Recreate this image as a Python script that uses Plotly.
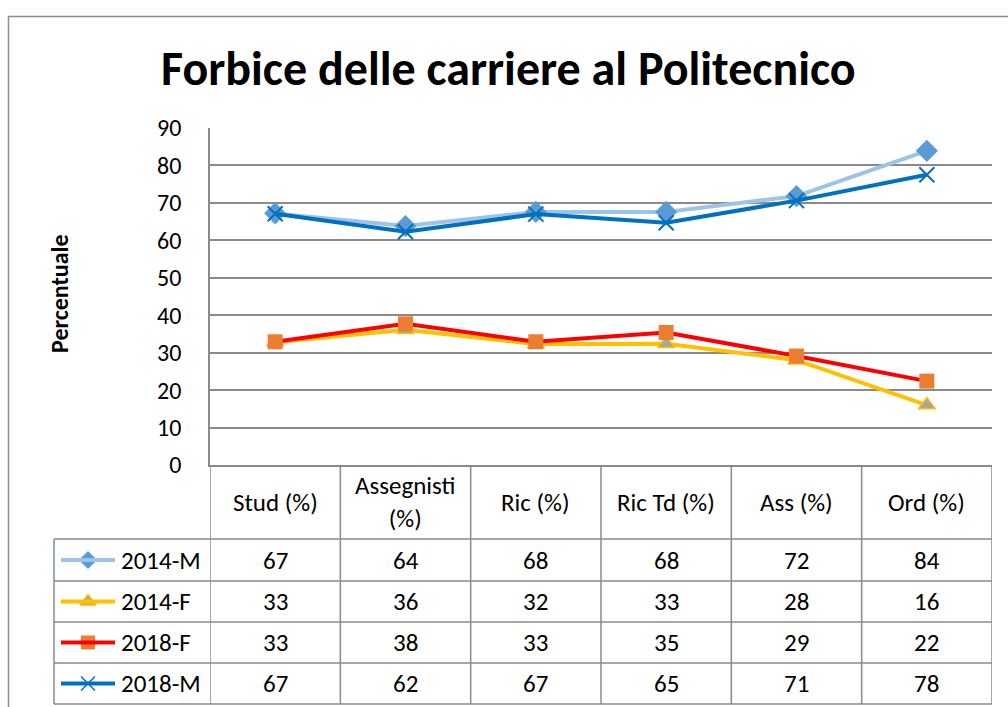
import plotly.graph_objects as go

W, H = 1008, 707

# ---------------- data ----------------
categories = ["Stud (%)", "Assegnisti (%)", "Ric (%)", "Ric Td (%)", "Ass (%)", "Ord (%)"]
header_labels = ["Stud (%)", "Assegnisti<br>(%)", "Ric (%)", "Ric Td (%)", "Ass (%)", "Ord (%)"]
series_names = ["2014-M", "2014-F", "2018-F", "2018-M"]
m2014 = [67.2, 63.8, 67.6, 67.6, 71.8, 83.9]
f2014 = [32.8, 36.1, 32.3, 32.4, 28.0, 16.0]
f2018 = [32.9, 37.7, 32.9, 35.4, 29.1, 22.4]
m2018 = [67.1, 62.3, 67.0, 64.7, 70.6, 77.5]
table_m2014 = [67, 64, 68, 68, 72, 84]
table_f2014 = [33, 36, 32, 33, 28, 16]
table_f2018 = [33, 38, 33, 35, 29, 22]
table_m2018 = [67, 62, 67, 65, 71, 78]
y_ticks = [0, 10, 20, 30, 40, 50, 60, 70, 80, 90]

series_values = [m2014, f2014, f2018, m2018]
table_values = [table_m2014, table_f2014, table_f2018, table_m2018]

# ---------------- styles ----------------
FONT = "Carlito, Lato, sans-serif"
GRID = "#8a8a8a"
line_colors = ["#9DC3E6", "#FFC000", "#FF0000", "#0070C0"]
markers = [
    dict(symbol="diamond", size=17, color="#5B9BD5", line=dict(width=0)),
    dict(symbol="triangle-up", size=15, color="#A5A5A5", line=dict(width=1.5, color="#FFC000")),
    dict(symbol="square", size=15, color="#ED7D31", line=dict(width=0)),
    dict(symbol="x-thin", size=15, color="#0070C0", line=dict(width=2, color="#0070C0")),
]
legend_markers = [
    dict(symbol="diamond", size=14, color="#5B9BD5", line=dict(width=0)),
    dict(symbol="triangle-up", size=14, color="#A5A5A5", line=dict(width=1.5, color="#FFC000")),
    dict(symbol="square", size=14, color="#ED7D31", line=dict(width=0)),
    dict(symbol="x-thin", size=14, color="#0070C0", line=dict(width=1.5, color="#0070C0")),
]

def py(p):
    return 1 - p / H

def px(p):
    return p / W

plot_left, plot_right = 210, 992
plot_top, plot_bottom = 128, 465
row_lines = [539, 581, 622, 663, 704]
legend_left = 54

fig = go.Figure()
for name, vals, lc, mk in zip(series_names, series_values, line_colors, markers):
    fig.add_trace(go.Scatter(
        x=categories, y=vals, mode="lines+markers", name=name,
        line=dict(color=lc, width=4), marker=mk, showlegend=False,
        cliponaxis=False, xaxis="x", yaxis="y",
    ))

# legend key markers inside table (on a hidden paper-like axis)
row_centers = [(row_lines[i] + row_lines[i + 1]) / 2 for i in range(4)]
shapes = []
for i, (lc, mk) in enumerate(zip(line_colors, legend_markers)):
    yc = py(row_centers[i])
    shapes.append(dict(type="line", xref="paper", yref="paper", x0=px(61), x1=px(115),
                       y0=yc, y1=yc, line=dict(color=lc, width=4)))
    fig.add_trace(go.Scatter(x=[px(88)], y=[yc], xaxis="x2", yaxis="y2", mode="markers",
                             marker=mk, showlegend=False, hoverinfo="skip", cliponaxis=False))

# table lines
for r in row_lines:
    shapes.append(dict(type="line", xref="paper", yref="paper", x0=px(legend_left), x1=px(plot_right),
                       y0=py(r), y1=py(r), line=dict(color=GRID, width=1.5)))
for i in range(len(categories) + 1):
    shapes.append(dict(type="line", xref="x", yref="paper", x0=i - 0.5, x1=i - 0.5,
                       y0=py(plot_bottom), y1=py(row_lines[-1]), line=dict(color=GRID, width=1.5)))
shapes.append(dict(type="line", xref="paper", yref="paper", x0=px(legend_left), x1=px(legend_left),
                   y0=py(row_lines[0]), y1=py(row_lines[-1]), line=dict(color=GRID, width=1.5)))
# outer chart border
shapes.append(dict(type="rect", xref="paper", yref="paper", x0=px(8.5), x1=px(1012),
                   y0=py(712), y1=py(16.5), line=dict(color="#8f8f8f", width=1.5)))

annotations = []
for cat, lab in zip(categories, header_labels):
    annotations.append(dict(x=cat, xref="x", y=py((plot_bottom + row_lines[0]) / 2), yref="paper",
                            text=lab, showarrow=False, font=dict(family=FONT, size=25, color="black"),
                            xanchor="center", yanchor="middle"))
for i, (name, tv) in enumerate(zip(series_names, table_values)):
    yc = py(row_centers[i])
    annotations.append(dict(x=px(119), xref="paper", y=yc, yref="paper", text=name, showarrow=False,
                            font=dict(family=FONT, size=25, color="black"), xanchor="left", yanchor="middle"))
    for cat, v in zip(categories, tv):
        annotations.append(dict(x=cat, xref="x", y=yc, yref="paper", text=str(v), showarrow=False,
                                font=dict(family=FONT, size=25, color="black"),
                                xanchor="center", yanchor="middle"))
annotations.append(dict(x=px(60), xref="paper", y=py(294), yref="paper", text="<b>Percentuale</b>",
                        textangle=-90, showarrow=False, font=dict(family=FONT, size=24, color="black"),
                        xanchor="center", yanchor="middle"))
annotations.append(dict(x=px(508), xref="paper", y=py(68), yref="paper",
                        text="<b>Forbice delle carriere al Politecnico</b>", showarrow=False,
                        font=dict(family=FONT, size=48, color="black"), xanchor="center", yanchor="middle"))

fig.update_layout(
    template="none",
    width=W, height=H, autosize=False, margin=dict(l=0, r=0, t=0, b=0, pad=0, autoexpand=False),
    paper_bgcolor="white", plot_bgcolor="rgba(0,0,0,0)",
    xaxis=dict(domain=[px(plot_left), px(plot_right)], type="category", categoryarray=categories,
               range=[-0.5, len(categories) - 0.5], showticklabels=False, showgrid=False,
               zeroline=False, showline=True, linecolor=GRID, linewidth=1.5, ticks="", anchor="y"),
    yaxis=dict(domain=[py(plot_bottom), py(plot_top)], range=[0, 90], tickvals=y_ticks,
               showgrid=True, gridcolor=GRID, gridwidth=1.5, zeroline=False, showline=True,
               linecolor=GRID, linewidth=1.5, ticks="", ticklabelstandoff=22, anchor="x",
               tickfont=dict(family=FONT, size=24, color="black")),
    xaxis2=dict(domain=[0, 1], range=[0, 1], visible=False, anchor="y2"),
    yaxis2=dict(domain=[0, 1], range=[0, 1], visible=False, anchor="x2"),
    shapes=shapes, annotations=annotations, showlegend=False,
)

fig.write_html("out.html", config={"displayModeBar": False},
               post_script="document.body.style.margin='0';")
